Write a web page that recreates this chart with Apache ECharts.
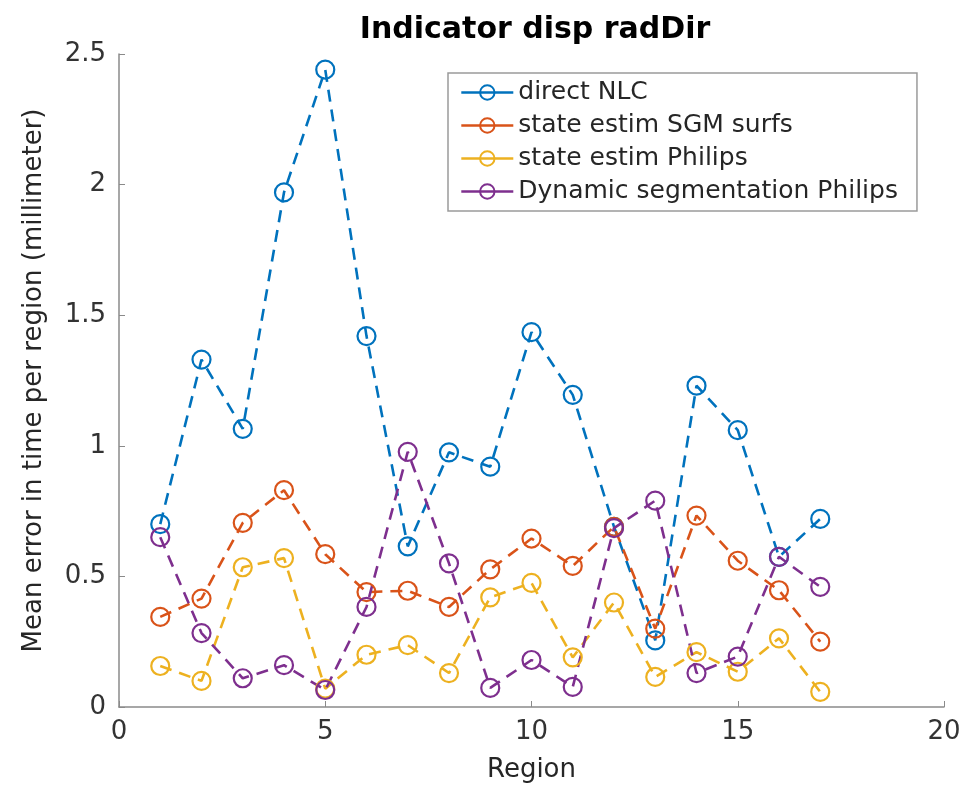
<!DOCTYPE html>
<html>
<head>
<meta charset="utf-8">
<script src="https://cdn.jsdelivr.net/npm/echarts@6/dist/echarts.min.js"></script>
<style>
  html, body { margin: 0; padding: 0; background: #fff; }
  #chart { width: 965px; height: 792px; }
</style>
</head>
<body>
<div id="chart"></div>
<script>
// regions on the x axis
const regions = [1, 2, 3, 4, 5, 6, 7, 8, 9, 10, 11, 12, 13, 14, 15, 16, 17];
// mean error per region (millimeter)
const directNLC = [0.70, 1.33, 1.065, 1.97, 2.44, 1.42, 0.615, 0.975, 0.92, 1.435, 1.195, 0.69, 0.255, 1.23, 1.06, 0.575, 0.72];
const sgmSurfs = [0.345, 0.415, 0.705, 0.83, 0.585, 0.44, 0.445, 0.383, 0.527, 0.645, 0.54, 0.69, 0.30, 0.733, 0.56, 0.447, 0.25];
const estimPhilips = [0.157, 0.10, 0.535, 0.57, 0.07, 0.20, 0.237, 0.13, 0.42, 0.475, 0.19, 0.40, 0.115, 0.21, 0.135, 0.263, 0.058];
const dynSegPhilips = [0.65, 0.283, 0.11, 0.16, 0.065, 0.383, 0.977, 0.55, 0.073, 0.18, 0.077, 0.685, 0.79, 0.13, 0.193, 0.575, 0.46];

const seriesNames = ["direct NLC", "state estim SGM surfs", "state estim Philips", "Dynamic segmentation Philips"];
const seriesColors = ["#0072BD", "#D95319", "#EDB120", "#7E2F8E"];
const seriesValues = [directNLC, sgmSurfs, estimPhilips, dynSegPhilips];

const font = "DejaVu Sans";

const makeSeries = (name, values, color) => ({
  name: name,
  type: "line",
  data: values.map((v, i) => [regions[i], v]),
  symbol: "circle",
  symbolSize: 18,
  showSymbol: true,
  itemStyle: { color: "rgba(255,255,255,0)", borderColor: color, borderWidth: 2.2 },
  lineStyle: { color: color, width: 2.6, type: [12, 8] },
  emphasis: { disabled: true },
  animation: false,
});

const chart = echarts.init(document.getElementById("chart"));
chart.setOption({
  backgroundColor: "#fff",
  animation: false,
  title: {
    text: "Indicator disp radDir",
    left: 530,
    top: 10,
    textAlign: "center",
    textStyle: { fontFamily: font, fontWeight: "bold", fontSize: 30, color: "#000" },
  },
  legend: {
    orient: "vertical",
    left: 448,
    top: 73,
    padding: [7, 19, 7, 12],
    itemGap: 8,
    itemWidth: 52,
    itemHeight: 18,
    backgroundColor: "#fff",
    borderColor: "#9a9a9a",
    borderWidth: 1.5,
    borderRadius: 0,
    lineStyle: { type: "solid", width: 2.6 },
    textStyle: { fontFamily: font, fontSize: 25, color: "#262626" },
    data: seriesNames,
  },
  grid: {
    left: 119,
    right: 21,
    top: 54,
    bottom: 85,
    containLabel: false,
  },
  xAxis: {
    type: "value",
    min: 0,
    max: 20,
    interval: 5,
    name: "Region",
    nameLocation: "middle",
    nameGap: 50,
    nameTextStyle: { fontFamily: font, fontSize: 26, color: "#262626" },
    axisLine: { show: true, lineStyle: { color: "#8a8a8a", width: 1.5 } },
    axisTick: { show: true, inside: true, length: 6, lineStyle: { color: "#8a8a8a" } },
    axisLabel: { fontFamily: font, fontSize: 26, color: "#333", margin: 12 },
    splitLine: { show: false },
  },
  yAxis: {
    type: "value",
    min: 0,
    max: 2.5,
    interval: 0.5,
    name: "Mean error in time per region (millimeter)",
    nameLocation: "middle",
    nameGap: 72,
    nameTextStyle: { fontFamily: font, fontSize: 26, color: "#262626" },
    axisLine: { show: true, lineStyle: { color: "#8a8a8a", width: 1.5 } },
    axisTick: { show: true, inside: true, length: 6, lineStyle: { color: "#8a8a8a" } },
    axisLabel: { fontFamily: font, fontSize: 26, color: "#333", margin: 13 },
    splitLine: { show: false },
  },
  series: seriesNames.map((n, i) => makeSeries(n, seriesValues[i], seriesColors[i])),
});
</script>
</body>
</html>
